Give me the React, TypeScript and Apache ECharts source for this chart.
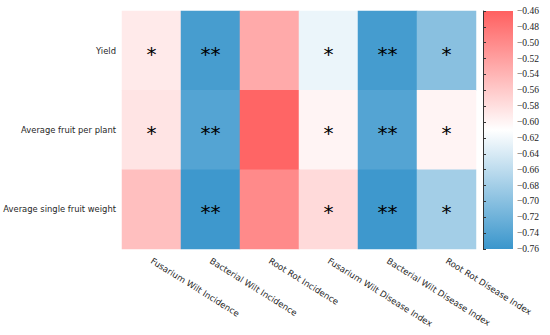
import React, { useEffect, useRef } from "react";
import * as echarts from "echarts";

const traits = ["Yield", "Average fruit per plant", "Average single fruit weight"];
const diseases = [
  "Fusarium Wilt Incidence",
  "Bacterial Wilt Incidence",
  "Root Rot Incidence",
  "Fusarium Wilt Disease Index",
  "Bacterial Wilt Disease Index",
  "Root Rot Disease Index",
];
const yieldVals = [-0.59, -0.75, -0.53, -0.625, -0.752, -0.7];
const fruitPerPlantVals = [-0.585, -0.74, -0.465, -0.6, -0.74, -0.6];
const singleFruitWeightVals = [-0.55, -0.757, -0.5, -0.575, -0.757, -0.68];
const yieldSig = ["*", "**", "", "*", "**", "*"];
const fruitPerPlantSig = ["*", "**", "", "*", "**", "*"];
const singleFruitWeightSig = ["", "**", "", "*", "**", "*"];
const colorMin = -0.76;
const colorMax = -0.46;
const colorStep = 0.02;
const colorStops = ["#3A96CC", "#FFFFFF", "#FF6060"];

const rows = [
  { vals: yieldVals, sig: yieldSig },
  { vals: fruitPerPlantVals, sig: fruitPerPlantSig },
  { vals: singleFruitWeightVals, sig: singleFruitWeightSig },
];

export default function App() {
  const ref = useRef<HTMLDivElement>(null);
  useEffect(() => {
    if (!ref.current) return;
    const chart = echarts.init(ref.current, null, { renderer: "svg" });
    const data: any[] = [];
    rows.forEach((r, yi) => {
      r.vals.forEach((v, xi) => data.push([xi, yi, v, r.sig[xi]]));
    });
    const gTop = 11;
    const gH = 238;
    chart.setOption({
      animation: false,
      grid: [
        { left: 122, top: gTop, width: 354, height: gH, containLabel: false, outerBoundsMode: "none" },
        { left: 483, top: gTop, width: 30, height: gH, containLabel: false, outerBoundsMode: "none" },
      ],
      xAxis: [
        {
          type: "category",
          data: diseases,
          gridIndex: 0,
          axisLine: { show: false },
          axisTick: { show: false },
          splitLine: { show: false },
          axisLabel: {
            rotate: -32,
            interval: 0,
            margin: 11,
            fontFamily: "DejaVu Sans",
            fontSize: 8.6,
            color: "#262626",
          },
        },
        { type: "value", gridIndex: 1, show: false, min: 0, max: 1 },
      ],
      yAxis: [
        {
          type: "category",
          data: traits,
          inverse: true,
          gridIndex: 0,
          axisLine: { show: false },
          axisTick: { show: false },
          splitLine: { show: false },
          axisLabel: {
            margin: 6,
            fontFamily: "DejaVu Sans",
            fontSize: 8.4,
            color: "#262626",
          },
        },
        {
          type: "value",
          gridIndex: 1,
          position: "right",
          min: colorMin,
          max: colorMax,
          interval: colorStep,
          axisLine: { show: true, lineStyle: { color: "#333", width: 1 } },
          axisTick: { show: true, length: 3, lineStyle: { color: "#333" } },
          splitLine: { show: false },
          axisLabel: {
            margin: 4,
            fontFamily: "Liberation Serif",
            fontSize: 9.5,
            color: "#222",
            formatter: (v: number) => "\u2212" + Math.abs(v).toFixed(2),
          },
        },
      ],
      visualMap: {
        show: false,
        type: "continuous",
        seriesIndex: 0,
        min: colorMin,
        max: colorMax,
        dimension: 2,
        inRange: { color: colorStops },
      },
      graphic: [
        {
          type: "rect",
          left: 483,
          top: gTop,
          shape: { x: 0, y: 0, width: 30, height: gH },
          style: {
            fill: new echarts.graphic.LinearGradient(0, 0, 0, 1, [
              { offset: 0, color: colorStops[2] },
              { offset: 0.5, color: colorStops[1] },
              { offset: 1, color: colorStops[0] },
            ]),
          },
          z: -1,
        },
      ],
      series: [
        {
          type: "heatmap",
          xAxisIndex: 0,
          yAxisIndex: 0,
          data,
          label: {
            show: true,
            formatter: (p: any) => p.data[3],
            fontFamily: "DejaVu Sans",
            fontSize: 20,
            color: "#000",
            offset: [0, 3],
          },
          itemStyle: { borderWidth: 0 },
          emphasis: { disabled: true },
        },
      ],
    });
    return () => chart.dispose();
  }, []);
  return <div ref={ref} style={{ width: 550, height: 335, position: "absolute", left: 0, top: 0 }} />;
}
